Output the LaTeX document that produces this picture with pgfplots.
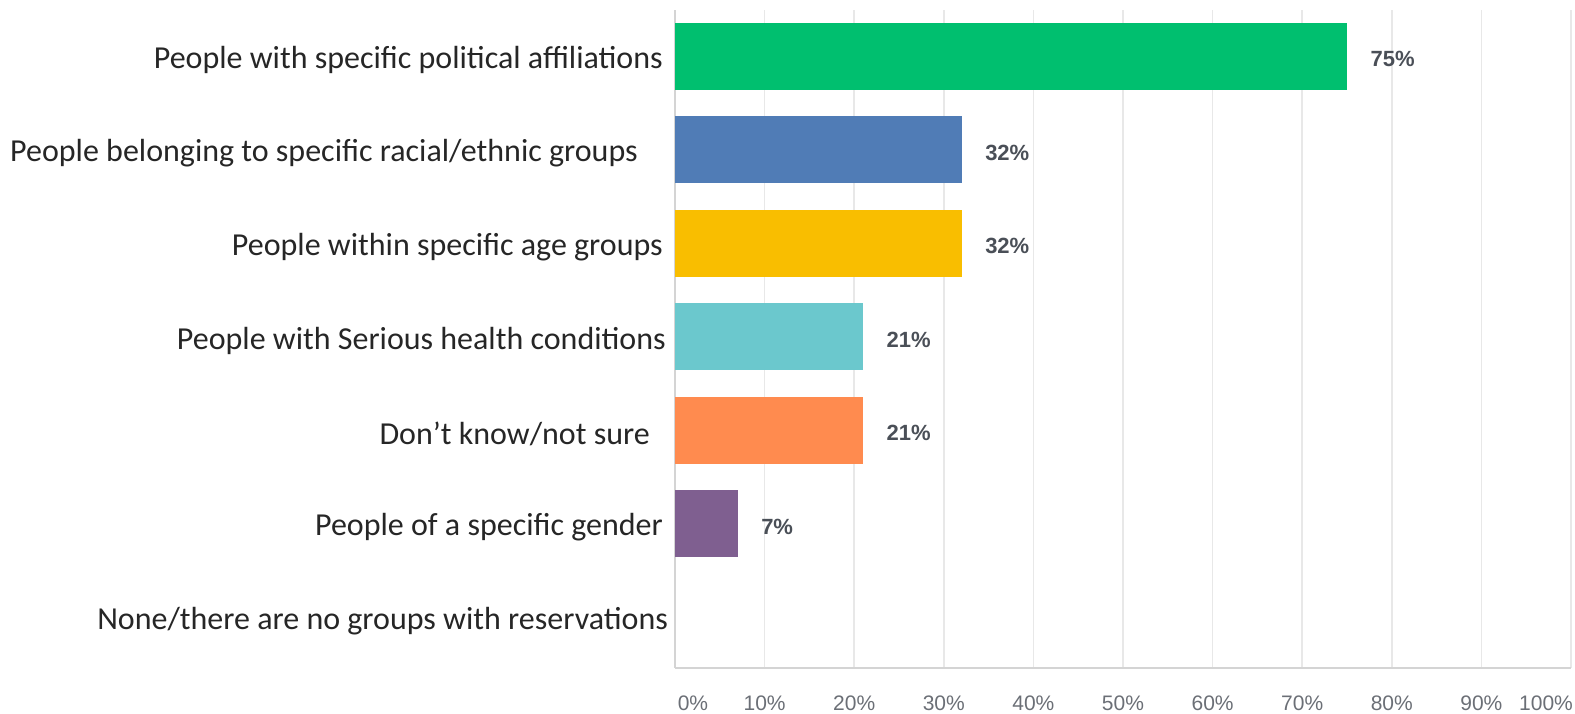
\documentclass[border=0pt]{standalone}
\usepackage{pgfplots}
\pgfplotsset{compat=1.18}
\usepackage{fontspec}
\setmainfont{Carlito}
\newfontfamily\tickfont{Liberation Sans}
\definecolor{cgreen}{HTML}{00BF6F}
\definecolor{cblue}{HTML}{507CB6}
\definecolor{cyellow}{HTML}{F9BE00}
\definecolor{cteal}{HTML}{6BC8CD}
\definecolor{corange}{HTML}{FF8B4F}
\definecolor{cpurple}{HTML}{7F5F90}
\definecolor{gridgray}{HTML}{E8E8E8}
\definecolor{axisgray}{HTML}{D4D4D4}
\definecolor{ticktext}{HTML}{6B6F76}
\definecolor{valtext}{HTML}{4A4F57}
\definecolor{cattext}{HTML}{262626}
\begin{document}
\begin{tikzpicture}
\path[use as bounding box] (0,0) rectangle (1575pt,713pt);
\begin{axis}[
 at={(675pt,45pt)}, anchor=south west,
 scale only axis, width=896pt, height=658pt,
 xbar, bar shift=0pt, bar width=67pt,
 xmin=0, xmax=100,
 ymin=-0.492, ymax=6.545, y dir=reverse,
 xtick={0,10,...,100},
 xticklabels={\hspace*{36pt}0\%,10\%,20\%,30\%,40\%,50\%,60\%,70\%,80\%,90\%,100\%\hspace*{50pt}},
 ytick={0,...,6},
 yticklabels={People with specific political affiliations,
   People belonging to specific racial/ethnic groups\hspace*{25pt},
   People within specific age groups,
   People with Serious health conditions\hspace*{-3pt},
   Don’t know/not sure\hspace*{13pt},
   People of a specific gender,
   None/there are no groups with reservations\hspace*{-5pt}},
 axis x line*=bottom, axis y line*=left,
 x axis line style={axisgray, line width=2pt},
 y axis line style={axisgray, line width=1.5pt},
 xmajorgrids, grid style={gridgray, line width=1.5pt},
 major tick length=0pt,
 xticklabel style={font=\tickfont\fontsize{21}{21}\selectfont, text=ticktext, anchor=center, yshift=-35pt},
 yticklabel style={font=\fontsize{32}{38}\selectfont, text=cattext, anchor=east, inner sep=0pt, xshift=-12pt, yshift=-4pt},
 point meta=x,
 nodes near coords={\pgfmathprintnumber[assume math mode=true]{\pgfplotspointmeta}\%},
 nodes near coords style={font=\tickfont\bfseries\fontsize{22}{22}\selectfont, text=valtext, anchor=west, xshift=20pt, yshift=-3pt},
 clip=false,
]
\addplot[fill=cgreen, draw=none] coordinates {(75,0)};
\addplot[fill=cblue, draw=none] coordinates {(32,1)};
\addplot[fill=cyellow, draw=none] coordinates {(32,2)};
\addplot[fill=cteal, draw=none] coordinates {(21,3)};
\addplot[fill=corange, draw=none] coordinates {(21,4)};
\addplot[fill=cpurple, draw=none] coordinates {(7,5)};
\addplot[fill=none, draw=none, nodes near coords={}] coordinates {(0,6)};
\end{axis}
\end{tikzpicture}
\end{document}
